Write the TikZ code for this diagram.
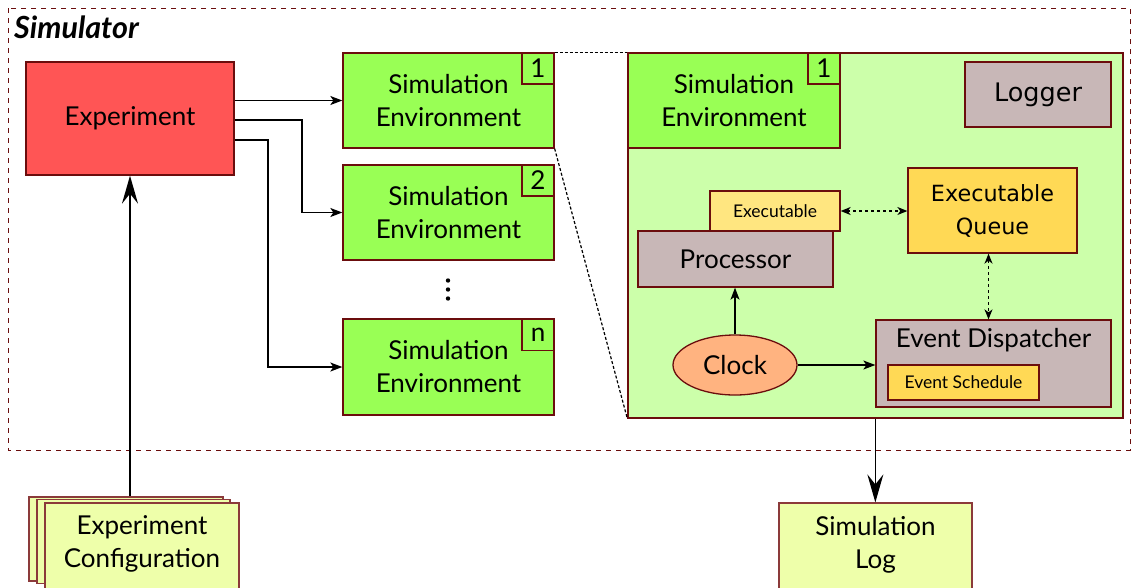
\documentclass[tikz,border=0pt]{standalone}
\usepackage{fontspec}
\setmainfont{Lato}
\newfontfamily\dejavu{DejaVu Sans}
\usetikzlibrary{arrows.meta,shapes.geometric}
\definecolor{dred}{HTML}{6B0D0D}
\definecolor{cfgdraw}{HTML}{8B3A3A}
\definecolor{redfill}{HTML}{FF5555}
\definecolor{envfill}{HTML}{99FF55}
\definecolor{lgreen}{HTML}{CCFFAA}
\definecolor{grayfill}{HTML}{C8B7B7}
\definecolor{yellowA}{HTML}{FFE680}
\definecolor{yellowB}{HTML}{FFD955}
\definecolor{orangefill}{HTML}{FFB380}
\definecolor{cfgfill}{HTML}{EEFFAA}
\tikzset{
  box/.style={draw=dred, line width=1.3pt, inner sep=0pt, align=center},
  big/.style={font=\fontsize{26}{33}\selectfont},
  small/.style={font=\fontsize{17.5}{20}\selectfont},
  arr/.style={line width=1.3pt, -{Stealth[length=12pt,width=9pt,inset=3pt]}},
  bigarr/.style={line width=1.6pt, -{Stealth[length=28pt,width=16pt,inset=10pt]}},
  dotarr/.style={line width=1.3pt, dash pattern=on 3pt off 3pt, {Stealth[length=10pt,width=8pt,inset=3pt]}-{Stealth[length=10pt,width=8pt,inset=3pt]}},
  zoomline/.style={line width=1.2pt, dash pattern=on 3pt off 2pt},
  envbox/.style={box, fill=envfill, minimum width=211pt, minimum height=95pt, big},
  numbox/.style={box, fill=envfill, minimum width=32pt, minimum height=31pt, big},
}
\begin{document}
\begin{tikzpicture}[x=1pt,y=-1pt]
\useasboundingbox (0,0) rectangle (1131,587);
% simulator border
\draw[dred, line width=1pt, dash pattern=on 5pt off 5pt] (8,8) rectangle (1130,450);
\node[anchor=base west, inner sep=0pt, font=\fontsize{30.5}{32}\selectfont\bfseries\itshape] (simlabel) at (14,38) {Simulator};

% experiment
\node[box, fill=redfill, minimum width=208pt, minimum height=113pt, big] (exp) at (130,118.5) {Experiment};

% environments
\node[envbox] (se1) at (448.5,100.5) {Simulation\\Environment};
\node[numbox] (n1) at (538,68.5) {1};
\node[envbox] (se2) at (448.5,212.5) {Simulation\\Environment};
\node[numbox] (n2) at (538,180.5) {2};
\fill (448,280.5) circle (2.2pt) (448,289.5) circle (2.2pt) (448,298.5) circle (2.2pt);
\node[envbox, minimum height=96pt] (sen) at (448.5,367) {Simulation\\Environment};
\node[numbox] (nn) at (538,335) {n};

% expanded environment
\node[box, fill=lgreen, minimum width=495pt, minimum height=365pt] (bigbox) at (875.5,235.5) {};
\node[envbox, minimum width=212pt] (ise) at (734,100.5) {Simulation\\Environment};
\node[numbox] (in1) at (824,68.5) {1};
\node[box, fill=grayfill, minimum width=146pt, minimum height=65pt, font=\dejavu\fontsize{25.5}{28}\selectfont] (logger) at (1038,94.5) {Logger};
\node[box, fill=yellowA, minimum width=130pt, minimum height=40pt, small] (exe) at (775,211) {Executable};
\node[box, fill=grayfill, minimum width=195pt, minimum height=56pt, big] (proc) at (735.5,259) {Processor};
\node[box, fill=yellowB, minimum width=169pt, minimum height=85pt, font=\dejavu\fontsize{22.3}{33}\selectfont] (eq) at (992.5,210.5) {Executable\\Queue};
\node[box, fill=grayfill, minimum width=235pt, minimum height=87pt] (evd) at (993.5,363.5) {};
\node[big, anchor=center] (evdlabel) at (993.5,340) {Event Dispatcher};
\node[box, fill=yellowB, minimum width=151pt, minimum height=35pt, small] (evs) at (963.5,382.5) {Event Schedule};
\node[box, ellipse, fill=orangefill, minimum width=124pt, minimum height=60pt, big] (clock) at (735,365) {Clock};

% zoom lines
\draw[zoomline] (se1.north east) -- (bigbox.north west);
\draw[zoomline] (se1.south east) -- (bigbox.south west);

% outputs / inputs
\node[draw=cfgdraw, line width=1.2pt, fill=cfgfill, minimum width=194pt, minimum height=84pt] (cfg3) at (126,539) {};
\node[draw=cfgdraw, line width=1.2pt, fill=cfgfill, minimum width=193pt, minimum height=84pt] (cfg2) at (133.5,541.5) {};
\node[draw=cfgdraw, line width=1.2pt, fill=cfgfill, minimum width=194pt, minimum height=90pt] (cfg1) at (142,548) {};
\node[big, align=center] (cfgtext) at (142,544) {Experiment\\Configuration};

\node[draw=cfgdraw, line width=1.2pt, fill=cfgfill, minimum width=193pt, minimum height=90pt] (log) at (875.5,548) {};
\node[big, align=center] (logtext) at (875.5,545) {Simulation\\Log};

% connectors
\coordinate (c2) at (302,120);
\coordinate (c3) at (268,140);
\draw[arr] (se1.west -| exp.east) -- (se1.west);
\draw[arr] (exp.east |- c2) -- (c2) |- (se2.west);
\draw[arr] (exp.east |- c3) -- (c3) |- (sen.west);
\draw[bigarr] (cfg3.north -| exp.south) -- (exp.south);
\draw[bigarr] (bigbox.south -| evd.west) -- (log.north -| evd.west);
\draw[arr] (clock.north) -- (proc.south -| clock.north);
\draw[arr] (clock.east) -- (clock.east -| evd.west);
\draw[dotarr] (exe.east) -- (exe.east -| eq.west);
\draw[dotarr] ([xshift=-4pt]eq.south) -- ([xshift=-4pt]eq.south |- evd.north);
\end{tikzpicture}
\end{document}
